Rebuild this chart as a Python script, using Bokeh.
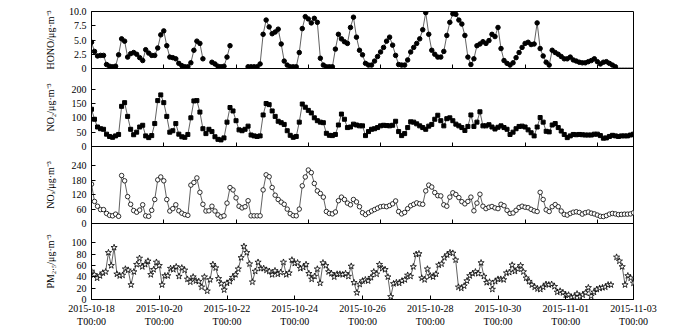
import numpy as np
from bokeh.plotting import figure
from bokeh.layouts import column
from bokeh.models import FixedTicker
from bokeh.embed import file_html
from bokeh.resources import INLINE

nan = float("nan")
step_h = 2  # hours between readings, first reading 2015-10-18 00:00

# HONO (ug/m3), 2-hourly; the last readings are drawn as a line only
hono = [
    4.6, 3.0, 2.2, 2.3, 2.3, 0.7, 0.4, 0.3, 0.4, 2.4, 5.2, 4.8,
    2.0, 2.6, 2.8, 2.5, 1.9, 1.4, 3.3, 2.7, 2.3, 2.3, 3.6, 5.9,
    6.6, 4.0, 2.0, 1.9, 1.7, 0.9, 0.5, 0.3, 0.3, 1.0, 3.2, 4.8,
    4.4, 1.7, nan, nan, 1.1, 0.8, 0.4, 0.3, 0.4, 2.0, 4.0, nan,
    nan, nan, nan, nan, 0.3, 0.3, 0.3, 0.3, 0.8, 6.0, 8.5, 7.3,
    6.1, 6.4, 6.9, 4.3, 1.3, 0.6, 0.3, 0.3, 0.3, 2.8, 7.0, 9.1,
    8.7, 8.0, 8.8, 8.1, 1.8, 0.6, 0.3, 0.3, 0.3, 3.4, 6.0, 5.2,
    4.7, 4.4, 7.2, 9.0, 5.5, 3.2, 2.4, 0.9, 0.6, 0.6, 1.3, 2.1,
    2.9, 3.7, 4.8, 5.5, 4.1, 2.3, 0.7, 0.6, 0.6, 1.5, 2.9, 3.7,
    4.4, 5.2, 6.8, 9.8, 6.0, 3.2, 2.5, 2.0, 2.0, 3.0, 5.8, 8.1,
    9.6, 9.5, 8.5, 7.8, 5.8, 2.0, 0.7, 1.7, 4.0, 4.3, 4.7, 4.4,
    4.9, 6.0, 5.6, 7.2, 3.5, 1.4, 0.9, 0.6, 1.0, 1.9, 2.8, 3.7,
    4.4, 4.6, 4.2, 4.3, 8.0, 3.5, 2.2, 1.1, 0.6, 3.2, 2.8, 2.5,
    2.1, 1.7, 1.7, 2.0, 1.5, 1.3, 1.1, 1.0, 1.0, 1.2, 1.4, 1.7,
    1.2, 0.8, 1.1, 1.2, 0.9, 0.6, 0.3,
]
hono_tail = [0.1, 0.1, 0.1, 0.1, 0.1, 0.1]

no2 = [
    130, 95, 68, 62, 60, 43, 35, 32, 37, 42, 140, 153,
    105, 60, 41, 50, 68, 74, 37, 31, 38, 80, 160, 180,
    153, 105, 50, 55, 80, 43, 34, 32, 42, 100, 159, 160,
    120, 62, 45, 60, 52, 34, 25, 23, 30, 85, 136, 124,
    90, 58, 55, 60, 71, 40, 37, 35, 37, 110, 150, 146,
    124, 105, 88, 83, 77, 55, 39, 32, 35, 85, 148, 137,
    126, 117, 100, 90, 85, 83, 46, 39, 38, 42, 75, 113,
    95, 66, 68, 78, 75, 72, 72, 38, 52, 60, 62, 66,
    72, 74, 73, 72, 74, 88, 52, 38, 45, 66, 86, 85,
    79, 72, 66, 60, 71, 77, 95, 109, 90, 72, 97, 100,
    90, 78, 72, 66, 56, 70, 110, 70, 85, 121, 72, 72,
    76, 68, 61, 67, 72, 66, 60, 42, 50, 62, 70, 71,
    68, 58, 48, 37, 68, 101, 85, 53, 51, 75, 80, 66,
    54, 42, 31, 37, 42, 41, 42, 41, 40, 40, 40, 43,
    43, 38, 29, 30, 35, 39, 37, 35, 37, 37, 37, 40,
    43,
]

nox = [
    164, 92, 72, 58, 58, 42, 34, 32, 39, 30, 200, 178,
    112, 80, 54, 47, 56, 78, 32, 30, 55, 100, 182, 194,
    178, 100, 52, 62, 78, 53, 43, 37, 34, 160, 171, 190,
    130, 80, 52, 53, 72, 52, 36, 28, 32, 85, 150, 140,
    107, 72, 65, 70, 95, 32, 32, 32, 32, 140, 203, 195,
    150, 118, 100, 89, 80, 60, 41, 33, 32, 60, 157, 194,
    223, 212, 167, 136, 125, 110, 50, 42, 40, 48, 95, 110,
    100, 85, 78, 100, 90, 70, 45, 37, 45, 52, 58, 64,
    70, 72, 70, 75, 82, 94, 50, 40, 46, 62, 74, 80,
    86, 82, 80, 136, 160, 152, 129, 116, 115, 78, 72, 110,
    128, 121, 108, 91, 82, 92, 110, 53, 85, 122, 72, 62,
    68, 71, 65, 62, 80, 74, 55, 42, 44, 55, 67, 72,
    68, 66, 59, 53, 50, 130, 100, 57, 50, 70, 79, 70,
    52, 38, 35, 42, 47, 49, 46, 39, 45, 48, 43, 40,
    35, 30, 29, 33, 39, 42, 40, 37, 38, 39, 39, 40,
    45,
]

pm25 = [
    50, 44, 38, 42, 47, 49, 83, 60, 92, 45, 42, 43,
    54, 52, 26, 49, 62, 73, 58, 62, 68, 44, 53, 66,
    60, 26, 42, 42, 55, 53, 58, 41, 56, 52, 36, 31,
    40, 33, 32, 22, 40, 15, 35, 62, 56, 37, 28, 17,
    29, 32, 39, 44, 54, 74, 94, 83, 63, 31, 50, 66,
    55, 55, 52, 50, 44, 51, 45, 48, 66, 44, 47, 70,
    64, 65, 55, 57, 62, 46, 36, 41, 54, 29, 65, 60,
    49, 46, 40, 45, 45, 44, 46, 41, 59, 30, 12, 27,
    33, 35, 33, 39, 49, 45, 62, 55, 53, 40, 5, 28,
    30, 29, 33, 35, 43, 41, 58, 80, 81, 38, 35, 54,
    42, 40, 45, 61, 63, 74, 79, 83, 82, 70, 22, 20,
    24, 33, 42, 46, 49, 46, 65, 41, 30, 31, 18, 32,
    36, 36, 35, 47, 48, 61, 50, 54, 60, 49, 38, 32,
    26, 22, 19, 18, 22, 27, 26, 27, 23, 13, 15, 12,
    8, 8, 4, 5, 10, 5, 8, 12, 21, 6, 13, 18,
    20, 21, 22, 26, 26, nan, 75, 68, 58, 26, 42, 38,
    29,
]

date_ticks = [0, 2, 4, 6, 8, 10, 12, 14, 16]
date_labels = ["2015-10-18", "2015-10-20", "2015-10-22", "2015-10-24",
               "2015-10-26", "2015-10-28", "2015-10-30", "2015-11-01",
               "2015-11-03"]

hono_ticks = [0, 2.5, 5, 7.5, 10]
hono_tick_labels = ["0", "2.5", "5.0", "7.5", "10.0"]
no2_ticks = [0, 50, 100, 150, 200]
nox_ticks = [0, 60, 120, 180, 240]
pm_ticks = [0, 20, 40, 60, 80, 100]

FONT = "Liberation Serif"
LINE = "#3a3a3a"
OVERLAP = 6  # px of transparent border shared between stacked panels


def panel(height, top, bottom, xmax, ymax, ylabel, yticks, ylabels, label_standoff, margin_top):
    p = figure(width=700, height=height, x_range=(0, xmax), y_range=(0, ymax),
               min_border_left=91, min_border_right=67,
               min_border_top=top, min_border_bottom=bottom,
               margin=(margin_top, 0, 0, 0),
               output_backend="svg", toolbar_location=None)
    p.xgrid.visible = False
    p.ygrid.visible = False
    p.outline_line_color = "black"
    p.outline_line_width = 1
    p.outline_line_alpha = 1
    p.background_fill_color = None
    p.border_fill_color = None
    for ax in (p.xaxis[0], p.yaxis[0]):
        ax.axis_line_color = "black"
        ax.major_tick_line_color = "black"
        ax.minor_tick_line_color = None
        ax.major_tick_in = 4
        ax.major_tick_out = 0
        ax.major_label_text_font = FONT
        ax.major_label_text_font_size = "10px"
        ax.major_label_text_color = "black"
    p.yaxis.ticker = FixedTicker(ticks=yticks)
    p.yaxis.major_label_overrides = {t: l for t, l in zip(yticks, ylabels)}
    p.yaxis.major_label_standoff = 5
    p.yaxis.axis_label = ylabel
    p.yaxis.axis_label_text_font = FONT
    p.yaxis.axis_label_text_font_size = "10px"
    p.yaxis.axis_label_text_font_style = "normal"
    p.yaxis.axis_label_text_color = "black"
    p.yaxis.axis_label_standoff = label_standoff
    p.xaxis.ticker = FixedTicker(ticks=[t for t in date_ticks if t <= xmax])
    return p


x_top = np.arange(len(no2)) * step_h / 24.0
x_pm = np.arange(len(pm25)) * step_h / 24.0

# Panel 1: HONO
p1 = panel(57 + 11 + OVERLAP, 11, OVERLAP, 15, 10, "HONO/\u03bcg\u00b7m\u207b\u00b3",
           hono_ticks, hono_tick_labels, 10, 0)
hono_all = np.array(hono + hono_tail, dtype=float)
p1.line(x_top[:len(hono_all)], hono_all, line_color=LINE, line_width=0.8)
p1.scatter(x_top[:len(hono)], np.array(hono, dtype=float), marker="circle", size=4.5,
           fill_color="black", line_color="black")

# Panel 2: NO2
p2 = panel(78 + OVERLAP, 0, OVERLAP, 15, 272, "NO\u2082/\u03bcg\u00b7m\u207b\u00b3",
           no2_ticks, [str(t) for t in no2_ticks], 13, -OVERLAP)
p2.line(x_top, np.array(no2, dtype=float), line_color=LINE, line_width=0.8)
p2.scatter(x_top, np.array(no2, dtype=float), marker="square", size=4,
           fill_color="black", line_color="black")

# Panel 3: NOx
p3 = panel(77 + OVERLAP, 0, OVERLAP, 15, 321, "NO\u2093/\u03bcg\u00b7m\u207b\u00b3",
           nox_ticks, [str(t) for t in nox_ticks], 13, -OVERLAP)
p3.line(x_top, np.array(nox, dtype=float), line_color=LINE, line_width=0.8)
p3.scatter(x_top, np.array(nox, dtype=float), marker="circle", size=4.5,
           fill_color="white", line_color="black", line_width=0.8)

for p in (p1, p2, p3):
    p.xaxis.major_label_text_font_size = "0px"
    p.xaxis.major_label_text_color = None
    p.xaxis.major_label_standoff = 0

# Panel 4: PM2.5
p4 = panel(106, 0, 28, 16, 134.5, "PM\u2082.\u2085/\u03bcg\u00b7m\u207b\u00b3",
           pm_ticks, [str(t) for t in pm_ticks], 13, -OVERLAP)
p4.line(x_pm, np.array(pm25, dtype=float), line_color=LINE, line_width=0.8)
p4.scatter(x_pm, np.array(pm25, dtype=float), marker="star", size=6.5,
           fill_color="white", line_color="black", line_width=0.8)
p4.xaxis.major_label_overrides = {t: l + "\nT00:00" for t, l in zip(date_ticks, date_labels)}
p4.xaxis.major_label_standoff = 3

layout = column(p1, p2, p3, p4, spacing=0)
open("out.html", "w").write(file_html(layout, INLINE))
